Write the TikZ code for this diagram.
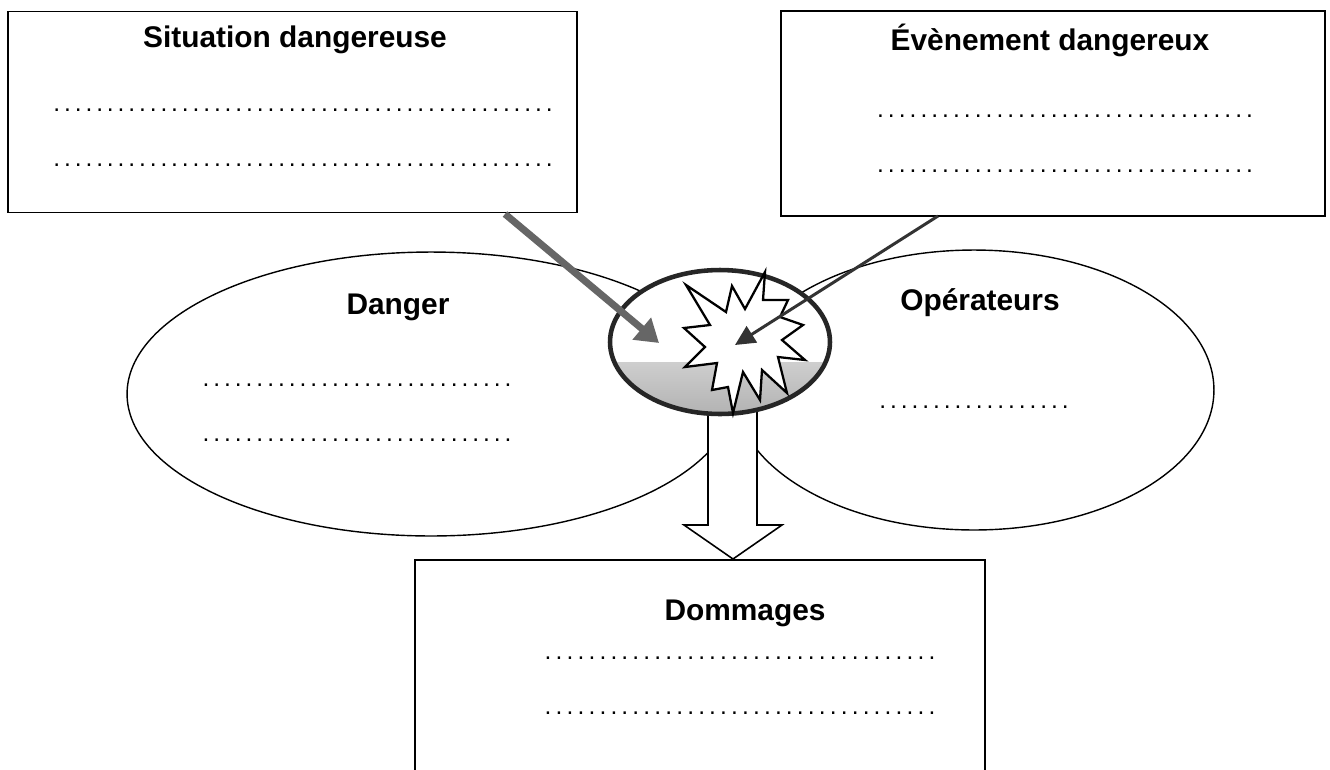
\documentclass[tikz,border=0pt]{standalone}
\usepackage{fontspec}
\setmainfont{Liberation Sans}
\usetikzlibrary{calc,arrows.meta,shapes.geometric}
\newcommand{\dotrow}[1]{\hbox to #1{\xleaders\hbox to 0.214cm{\hss.\hss}\hfill}}

\begin{document}
\begin{tikzpicture}[x=0.02cm,y=-0.02cm,
    box/.style={draw,line width=1.1pt,inner sep=0pt},
    zone/.style={ellipse,draw,line width=0.8pt,inner sep=0pt},
    titre/.style={font=\bfseries\fontsize{17}{20}\selectfont,inner sep=0pt},
    pointille/.style={font=\fontsize{14}{16}\selectfont,inner sep=0pt}]
  \useasboundingbox (0,0) rectangle (1330,769);
  % boites du haut
  \node[box,minimum width=11.38cm,minimum height=4.02cm](sit)at(292.5,112){};
  \node[box,minimum width=10.9cm,minimum height=4.1cm](evt)at(1053,113.5){};
  \node[titre](sittitre)at(295,40){Situation dangereuse};
  \node[pointille](sitdots1)at(303,110){\dotrow{10.06cm}};
  \node[pointille](sitdots2)at(303,165){\dotrow{10.06cm}};
  \node[titre](evttitre)at(1050,40){Évènement dangereux};
  \node[pointille](evtdots1)at(1065,116){\dotrow{7.6cm}};
  \node[pointille](evtdots2)at(1065,171){\dotrow{7.6cm}};
  % ellipses danger / operateurs
  \node[zone,minimum width=12.16cm,minimum height=5.68cm](danger)at(431,394){};
  \node[zone,minimum width=9.6cm,minimum height=5.6cm](oper)at(974,390){};
  \node[titre](dangertitre)at(398,307){Danger};
  \node[pointille](dangerdots1)at(357,385){\dotrow{6.26cm}};
  \node[pointille](dangerdots2)at(357,440){\dotrow{6.26cm}};
  \node[titre](opertitre)at(980,303){Opérateurs};
  \node[pointille](operdots)at(974,407){\dotrow{3.86cm}};
  % boite dommages
  \node[box,anchor=north,minimum width=11.4cm,minimum height=5cm](dom)at(700,559){};
  \coordinate (domtop) at (733,559);
  \node[titre](domtitre)at(745,613){Dommages};
  \node[pointille](domdots1)at(740,658){\dotrow{7.9cm}};
  \node[pointille](domdots2)at(740,713){\dotrow{7.9cm}};
  % grosse fleche vers les dommages
  \draw[line width=0.9pt,fill=white] ($(domtop)+(-25,-160)$) -- ($(domtop)+(-25,-34)$)
     -- ($(domtop)+(-49,-34)$) -- (domtop) -- ($(domtop)+(49,-34)$)
     -- ($(domtop)+(24,-34)$) -- ($(domtop)+(24,-160)$) -- cycle;
  % zone de rencontre
  \node[ellipse,draw=black!85,line width=2.6pt,fill=white,inner sep=0pt,
        minimum width=4.4cm,minimum height=2.88cm,
        path picture={\shade[top color=white,bottom color=black!30]
          ($(path picture bounding box.west)+(0,20)$) rectangle (path picture bounding box.south east);}]
        (burst)at(720,342){};
  \draw[line width=1.3pt,fill=white] (686,285)--(726,312)--(732,286)--(745,309)--(765,272)
     --(763,300)--(788,300)--(780,317)--(803,325)--(782,340)--(805,360)--(778,357)
     --(787,393)--(762,370)--(760,400)--(743,372)--(733,413)--(728,387)--(712,390)
     --(717,363)--(685,367)--(705,347)--(684,328)--(710,325)--cycle;
  % fleches
  \coordinate (sitpied) at (505,214);
  \coordinate (cible1) at (659,343);
  \coordinate (evtpied) at (938,216);
  \coordinate (cible2) at (735,345);
  \draw[line width=4pt,black!60,-{Triangle[length=0.45cm,width=0.55cm]}](sitpied)--(cible1);
  \draw[line width=1.7pt,black!80,-{Triangle[length=0.4cm,width=0.38cm]}](evtpied)--(cible2);
\end{tikzpicture}
\end{document}
